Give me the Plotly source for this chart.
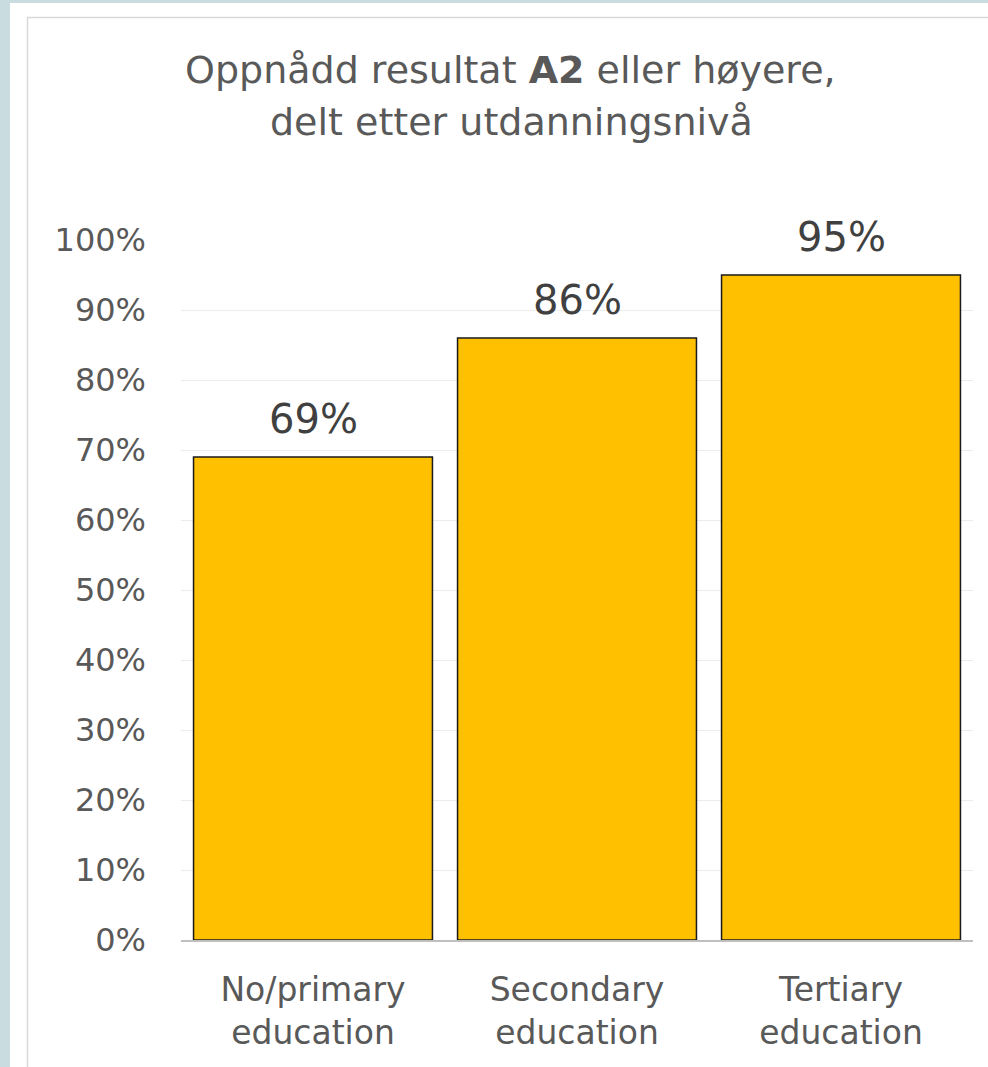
import plotly.graph_objects as go

categories = ["No/primary<br>education", "Secondary<br>education", "Tertiary<br>education"]
values = [69, 86, 95]
tick_vals = [0, 10, 20, 30, 40, 50, 60, 70, 80, 90, 100]
tick_text = [f"{v}%" for v in tick_vals]
title_line1 = "Oppnådd resultat <b>A2</b> eller høyere,"
title_line2 = "delt etter utdanningsnivå"

W, H = 988, 1067
L, R, T, B = 181, 973, 240, 940
pw, ph = R - L, B - T

def px(x):
    return (x - L) / pw

def py(y):
    return (B - y) / ph

FONT = "DejaVu Sans"
BG = "#c9dde1"

fig = go.Figure()
fig.add_trace(go.Bar(
    x=categories, y=values,
    marker=dict(color="#FFC000", line=dict(color="#1a1a1a", width=1.5)),
    cliponaxis=False, hoverinfo="skip",
))

shapes = [
    dict(type="rect", xref="paper", yref="paper", layer="below",
         x0=px(10), x1=px(1000), y0=py(3), y1=py(1080),
         fillcolor="white", line=dict(width=0)),
    dict(type="rect", xref="paper", yref="paper", layer="below",
         x0=px(27.5), x1=px(1000), y0=py(17.5), y1=py(1080),
         fillcolor="white", line=dict(color="#d9d9d9", width=1.5)),
]

annotations = [
    dict(text=title_line1, xref="paper", yref="paper",
         x=px(510), y=py(70), xanchor="center", yanchor="middle",
         showarrow=False, font=dict(family=FONT, size=38, color="#595959")),
    dict(text=title_line2, xref="paper", yref="paper",
         x=px(511), y=py(122), xanchor="center", yanchor="middle",
         showarrow=False, font=dict(family=FONT, size=38, color="#595959")),
]
for c, v in zip(categories, values):
    annotations.append(dict(
        x=c, y=v, xref="x", yref="y", text=f"{v}%", showarrow=False,
        xanchor="center", yanchor="bottom", yshift=13,
        font=dict(family=FONT, size=40, color="#404040"),
    ))

fig.update_layout(
    width=W, height=H,
    margin=dict(l=L, r=W - R, t=T, b=H - B, pad=0),
    paper_bgcolor=BG, plot_bgcolor="rgba(0,0,0,0)",
    showlegend=False, bargap=0.095,
    shapes=shapes, annotations=annotations,
    xaxis=dict(showline=True, linecolor="#bfbfbf", linewidth=2, ticks="",
               ticklabelstandoff=19,
               tickfont=dict(family=FONT, size=33, color="#595959"),
               showgrid=False),
    yaxis=dict(range=[0, 100], tickvals=tick_vals, ticktext=tick_text,
               showgrid=True, gridcolor="#ececec", gridwidth=1,
               zeroline=False, showline=False, ticks="",
               ticklabelstandoff=34,
               tickfont=dict(family=FONT, size=32, color="#595959")),
)

fig.write_html(
    "out.html",
    config={"displayModeBar": False},
    post_script="document.body.style.margin='0';document.body.style.background='" + BG + "';",
)
